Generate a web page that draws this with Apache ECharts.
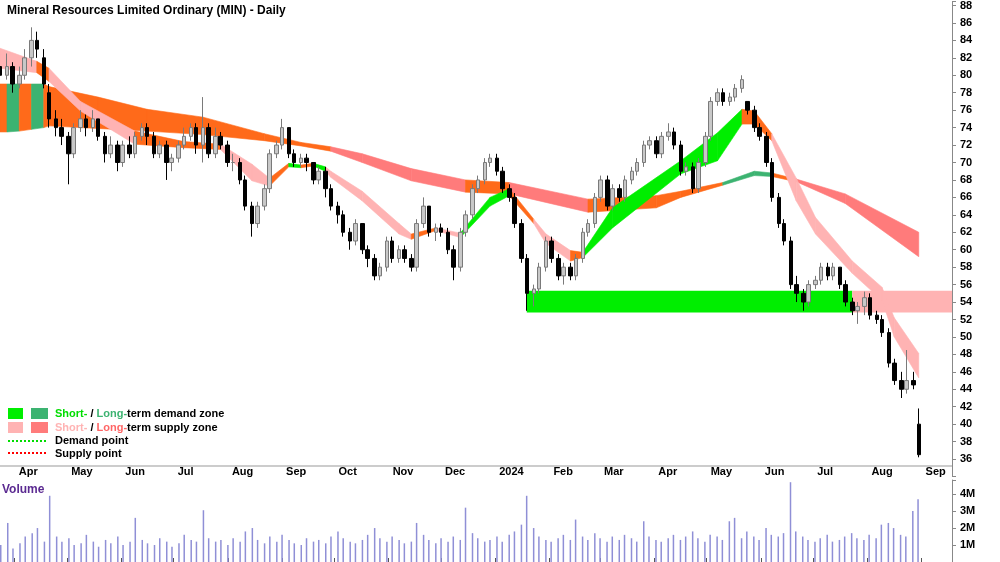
<!DOCTYPE html>
<html><head><meta charset="utf-8">
<script src="https://cdn.jsdelivr.net/npm/echarts@6/dist/echarts.min.js"></script>
<style>html,body{margin:0;padding:0;background:#fff}#c{width:1000px;height:562px}</style>
</head><body><div id="c"></div>
<script>
// OHLC rows per bar: [open, close, low, high]
const ohlc = [
[81,80,79,83],[80,81,79.5,82.5],[81,79,78,81.5],[79,80,78.5,81],[80,82,79.5,83],[82,84,81,85.5],[84,83,82,85],[82,79,78.5,83],[78,75,74,79],[75,74,73,76],
[74,73,72,75],[73,71,67.5,73.5],[71,74,70.5,74.5],[74,75,73.5,76],[75,74,73,75.5],[74,75,73.5,76],[75,73,72.5,75],[73,71,70,73.5],[71,72,70.5,73],[72,70,69,72.5],
[70,72,69.5,72.5],[72,71,70.5,73],[71,73,70.5,73.5],[73,74,72.5,74.5],[74,73,72,74.5],[73,71,70.5,73.5],[71,72,70.5,72.5],[72,70,68,72.5],[70,70.5,69,71],[70.5,72,70,72.5],
[72,73,71.5,74],[73,74,72.5,74.5],[74,72,71,74.5],[72,74,70,77.5],[74,71,70.5,74.5],[71,73,70.5,74],[73,72,71.5,73.5],[72,70,69.5,72.5],[70,70,69,71],[70,68,67.5,70.5],
[68,65,64.5,68.5],[65,63,61.5,65.5],[63,65,62.5,65.5],[65,67,64.5,67.5],[67,71,66.5,71.5],[71,72,70.5,72.5],[72,74,71.5,75],[74,71,70.5,74],[71,70,69.5,71.5],[70,70.5,69.5,71],
[70.5,70,69,71],[70,68,67.5,70],[68,69,67.5,69.5],[69,67,66,69.5],[67,65,64.5,67.5],[65,64,63,65.5],[64,62,61.5,64.5],[62,61,60,62.5],[61,63,60.5,63.5],[63,60,59.5,63],
[60,59,58,60.5],[59,57,56.5,59.5],[57,58,56.5,58.5],[58,61,57.5,61.5],[61,59,58.5,61.5],[59,60,58.5,60.5],[60,59,58.5,60.5],[59,58,57.5,59.5],[58,63,57.5,63.5],[63,65,62.5,66],
[65,62,61.5,65],[62,62.5,61,63],[62.5,62,61.5,63],[62,60,59.5,62.5],[60,58,56.5,60.5],[58,62,57.5,62.5],[62,64,61.5,64.5],[64,67,63.5,67.5],[67,68,66.5,68.5],[68,70,67.5,70.5],
[70,70.5,69.5,71],[70.5,69,68.5,71],[69,67,66.5,69.5],[67,66,65.5,67.5],[66,63,62.5,66.5],[63,59,58.5,63.5],[59,55,53,59.5],[55,55.5,53.5,56],[55.5,58,55,58.5],[58,61,57.5,61.5],
[61,59,58.5,61.5],[59,57,56.5,59.5],[57,58,56,58.5],[58,57,56.5,58.5],[57,59,56.5,59.5],[59,62,58.5,62.5],[62,63,61.5,63.5],[63,66,62.5,66.5],[66,68,65.5,68.5],[68,65,64.5,68.5],
[65,67,64.5,67.5],[67,66,65.5,67.5],[66,68,65.5,68.5],[68,69,67.5,69.5],[69,70,68.5,70.5],[70,72,69.5,72.5],[72,72.5,71.5,73],[72.5,71,70.5,73],[71,73,70.5,73.5],[73,73.5,72.5,74.5],
[73.5,72,71.5,74],[72,69,68.5,72.5],[69,69.5,68.5,70],[69.5,67,66.5,70],[67,70,66.5,70.5],[70,73,69.5,73.5],[73,77,72.5,77.5],[77,78,76.5,78.5],[78,77,76.5,78.5],[77,77.5,76.5,78],
[77.5,78.5,77,79],[78.5,79.5,78,80],[77,76,75.5,77],[76,74,73.5,76.5],[74,73,72.5,74.5],[73,70,69.5,73.5],[70,66,65.5,70.5],[66,63,62.5,66.5],[63,61,60.5,63.5],[61,56,55.5,61.5],
[56,55,54,57],[55,54,53,55.5],[54,56,53.5,56.5],[56,56.5,55.5,57],[56.5,58,56,58.5],[58,57,56.5,58.5],[57,58,56.5,58.5],[58,56,55.5,58],[56,54,53.5,56.5],[54,53,52.5,54.5],
[53,53.5,51.5,54],[53.5,54.5,52.5,55.2],[54.5,52.5,52,55],[52.5,52,51.5,53],[52,50.5,50,52.5],[50.5,47,46.5,51],[47,45,44.5,47.5],[45,44,43,46],[44,45,43.5,48.5],[45,44.5,44,46],
[40,36.5,36.2,41.8]
];
// volume per bar, millions
const volume = [
1.0,2.3,0.8,1.1,1.5,1.7,2.0,1.2,3.9,1.5,1.2,
1.4,1.0,1.1,1.6,1.2,0.9,1.3,1.1,1.5,1.0,
1.2,2.6,1.3,1.1,1.0,1.4,1.2,0.9,1.1,1.6,
1.3,1.2,3.05,1.4,1.2,1.3,1.0,1.4,1.2,1.8,
2.0,1.3,1.1,1.5,1.2,1.6,1.3,1.1,1.0,1.4,
1.2,1.3,1.1,1.5,1.8,1.4,1.2,1.1,1.3,1.6,
2.0,1.4,1.2,1.5,1.3,1.1,1.2,2.3,1.6,1.3,
1.1,1.4,1.2,1.5,1.3,3.2,1.7,1.4,1.2,1.3,
1.5,1.2,1.6,1.8,2.2,3.9,2.0,1.5,1.3,1.2,
1.4,1.6,1.3,2.5,1.5,1.3,1.7,1.4,1.2,1.5,
1.3,1.6,1.4,1.2,2.4,1.5,1.3,1.2,1.4,1.6,
1.3,1.5,1.8,1.4,1.2,1.6,1.5,1.3,2.4,2.6,
1.4,1.8,1.5,1.3,2.0,1.6,1.5,1.7,4.7,1.8,
1.5,1.3,1.2,1.4,1.6,1.2,1.3,1.5,1.7,1.4,
1.3,1.6,1.4,2.2,2.3,2.0,1.6,1.5,3.0,3.7
];
// long-term band keypoints: [barIndex, upper, lower, state]
const longBand = [
[0,79,73.5,'o'],[1,79,73.5,'g'],[3,79,73.6,'o'],[5,79,73.8,'g'],[7,79,74,'o'],[8,78.7,74.2,'o'],
[16,77.5,73.9,'o'],[24,76.1,73.6,'o'],[33,75.2,73.2,'o'],[43,73.3,72.5,'o'],[49,72.3,71.9,'o'],
[54,71.8,71.3,'r'],[59,71,70,'r'],[67,69.3,67.9,'r'],[76,68,66.6,'o'],[83,67.7,66.4,'r'],
[96,65.8,64.3,'o'],[107,66.2,64.8,'o'],[111,66.7,66,'o'],[118,67.7,67.4,'g'],[123,69,68.5,'g'],
[126,68.8,68.4,'o'],[130,68.1,67.8,'r'],[138,66.4,65.3,'r'],[150,62,59.2,'r']
];
// short-term band keypoints
const shortBand = [
[0,83.1,80.8,'p'],[6,81.6,80.3,'o'],[8,80.8,79.3,'p'],[13,77,75.9,'p'],[22,73.6,72.1,'o'],
[30,72.4,71.7,'o'],[36,72.1,71.5,'p'],[41,69.8,67.9,'p'],[44,68.2,67.3,'o'],[47,69.9,69.5,'g'],
[49,69.7,69.4,'o'],[51,69.9,69.6,'g'],[53,69.5,69,'p'],[54,69,68.3,'p'],[59,66.7,65.6,'p'],
[65,63,61.8,'p'],[67,61.8,61.2,'o'],[71,62.5,62.2,'p'],[75,61.9,61.4,'g'],[80,66,65,'g'],
[83,67,66.2,'o'],[87,63.5,63,'p'],[89,61.8,60.7,'p'],[93,59.9,58.7,'o'],[95,59.7,59.1,'g'],
[100,64.8,62.5,'g'],[111,70.2,68.7,'g'],[117,73.4,70.2,'g'],[121,76.1,74.4,'o'],[123,75.9,74.4,'o'],
[126,73.3,72.5,'p'],[130,68.2,65.6,'p'],[133,63.7,61.8,'p'],[139,58.7,57.3,'p'],[144,55.7,54.2,'p'],
[146,52.2,50,'p'],[150,48.1,45.3,'p']
];
// zones: [startBar, endBar(null = chart end), low, high, kind]
const zones = [[86,139,52.8,55.3,'demand'],[139,null,52.8,55.3,'supply']];
const monthNames = ['Jan','Feb','Mar','Apr','May','Jun','Jul','Aug','Sep','Oct','Nov','Dec'];

const DAY = 864e5;
const START = Date.UTC(2023,2,24);
function barDate(k){ const w=Math.floor(k), f=k-w; const base = START + (7*Math.floor(w/2) + (w%2?4:0))*DAY; return base + f*3.5*DAY; }
const XMIN = Date.UTC(2023,2,24), XMAX = Date.UTC(2024,8,18);

const candles = ohlc.map((r,k)=>[barDate(k), r[0], r[1], r[2], r[3]]);
const vols = volume.map((v,k)=>[barDate(k), v*1e6]);
const longCol = {o:'#ff6a1a', g:'#3cb371', r:'#ff7b7b'};
const shortCol = {o:'#ff6a1a', g:'#00ee00', p:'#ffb3b3'};

function bandSeries(pts, cols){
  const data = pts.map(p=>[barDate(p[0]), p[1], p[2]]);
  return {type:'custom', xAxisIndex:0, yAxisIndex:0, z:2, silent:true, data:data, encode:{x:0,y:[1,2]},
    renderItem:function(params, api){
      const i = params.dataIndex; if(i>=pts.length-1) return;
      const p = pts[i], q = pts[i+1];
      const a = api.coord([barDate(p[0]), p[1]]), b = api.coord([barDate(q[0]), q[1]]),
            c = api.coord([barDate(q[0]), q[2]]), d = api.coord([barDate(p[0]), p[2]]);
      const col = cols[p[3]];
      return {type:'polygon', shape:{points:[a,b,c,d]}, style:{fill:col, stroke:col, lineWidth:0.6}};
    }};
}

const zoneData = zones.map(z=>[barDate(z[0]), z[1]===null?XMAX:barDate(z[1]), z[2], z[3], z[4]]);
const zoneSeries = {type:'custom', xAxisIndex:0, yAxisIndex:0, z:1, silent:true, data:zoneData, encode:{x:[0,1],y:[2,3]},
  renderItem:function(params, api){
    const a = api.coord([api.value(0), api.value(3)]), b = api.coord([api.value(1), api.value(2)]);
    const kind = zoneData[params.dataIndex][4];
    return {type:'rect', shape:{x:a[0], y:a[1], width:b[0]-a[0], height:b[1]-a[1]}, style:{fill: kind==='demand'?'#00ee00':'#ffb3b3'}};
  }};

const chart = echarts.init(document.getElementById('c'), null, {renderer:'canvas'});
const lblFont = {fontFamily:'Arial', fontWeight:'bold', fontSize:11, color:'#000'};
chart.setOption({
  animation:false,
  backgroundColor:'#fff',
  title:{text:'Mineral Resources Limited Ordinary (MIN) - Daily', left:2, top:0, textStyle:{fontFamily:'Arial', fontWeight:'bold', fontSize:12, color:'#000'}},
  grid:[{left:0, right:48, top:0, height:476.5}, {left:0, right:48, top:480, height:87}],
  xAxis:[
    {type:'time', gridIndex:0, min:XMIN, max:XMAX, show:false},
    {type:'time', gridIndex:1, min:XMIN, max:XMAX, position:'top', minInterval:28*DAY, maxInterval:31*DAY,
     axisLine:{show:true, lineStyle:{color:'#000', width:1}},
     axisTick:{show:true, inside:false, length:4, lineStyle:{color:'#555'}},
     minorTick:{show:false},
     splitLine:{show:false},
     axisLabel:{...lblFont, align:'left', margin:3, padding:[0,0,0,4],
       formatter:function(v){const d=new Date(v); return d.getUTCMonth()===0? String(d.getUTCFullYear()) : monthNames[d.getUTCMonth()];}}}
  ],
  yAxis:[
    {type:'value', gridIndex:0, position:'right', min:34, max:88.457, interval:2, scale:true,
     axisLine:{show:true, lineStyle:{color:'#888'}}, axisTick:{show:true, length:4, lineStyle:{color:'#888'}},
     splitLine:{show:false},
     axisLabel:{...lblFont, margin:8, formatter:function(v){return (v>34 && v<=88 && v%2===0)? String(v):'';}}},
    {type:'value', gridIndex:1, position:'right', min:0, max:4.83e6, interval:1e6,
     axisLine:{show:true, lineStyle:{color:'#888'}}, axisTick:{show:true, length:4, lineStyle:{color:'#888'}},
     splitLine:{show:false},
     axisLabel:{...lblFont, margin:8, formatter:function(v){const m=v/1e6; return (m>0 && Math.abs(m-Math.round(m))<1e-9)? Math.round(m)+'M':'';}}}
  ],
  series:[
    zoneSeries,
    bandSeries(longBand, longCol),
    bandSeries(shortBand, shortCol),
    {type:'candlestick', xAxisIndex:0, yAxisIndex:0, z:5, data:candles.map(c=>[c[0],c[1],c[2],c[3],c[4]]),
     encode:{x:0, y:[1,2,3,4]}, barWidth:4,
     itemStyle:{color:'#c8c8c8', borderColor:'#7a7a7a', color0:'#000', borderColor0:'#000', borderWidth:1}},
    {type:'bar', xAxisIndex:1, yAxisIndex:1, data:vols, barWidth:1.5, itemStyle:{color:'#8f8fd6'}}
  ],
  graphic:[
    {type:'line', shape:{x1:0,y1:466,x2:952,y2:466}, style:{stroke:'#999', lineWidth:1}},
    {type:'text', left:2, top:484, style:{text:'Volume', font:'bold 12px Arial', fill:'#5b2a91'}},
    {type:'rect', shape:{x:8,y:408,width:15,height:11}, style:{fill:'#00ee00'}},
    {type:'rect', shape:{x:31,y:408,width:17,height:11}, style:{fill:'#3cb371'}},
    {type:'rect', shape:{x:8,y:422,width:15,height:11}, style:{fill:'#ffb3b3'}},
    {type:'rect', shape:{x:31,y:422,width:17,height:11}, style:{fill:'#ff7b7b'}},
    {type:'line', shape:{x1:8,y1:441,x2:48,y2:441}, style:{stroke:'#00dd00', lineWidth:2, lineDash:[2,2]}},
    {type:'line', shape:{x1:8,y1:453,x2:48,y2:453}, style:{stroke:'#ff0000', lineWidth:2, lineDash:[2,2]}},
    {type:'text', left:55, top:408, style:{text:'{g|Short-} / {dg|Long-}term demand zone', font:'bold 11px Arial', fill:'#000',
      rich:{g:{fill:'#00dd00', font:'bold 11px Arial'}, dg:{fill:'#3cb371', font:'bold 11px Arial'}}}},
    {type:'text', left:55, top:422, style:{text:'{p|Short-} / {r|Long-}term supply zone', font:'bold 11px Arial', fill:'#000',
      rich:{p:{fill:'#ffb3b3', font:'bold 11px Arial'}, r:{fill:'#ff6666', font:'bold 11px Arial'}}}},
    {type:'text', left:55, top:435, style:{text:'Demand point', font:'bold 11px Arial', fill:'#000'}},
    {type:'text', left:55, top:448, style:{text:'Supply point', font:'bold 11px Arial', fill:'#000'}}
  ]
});
</script></body></html>
